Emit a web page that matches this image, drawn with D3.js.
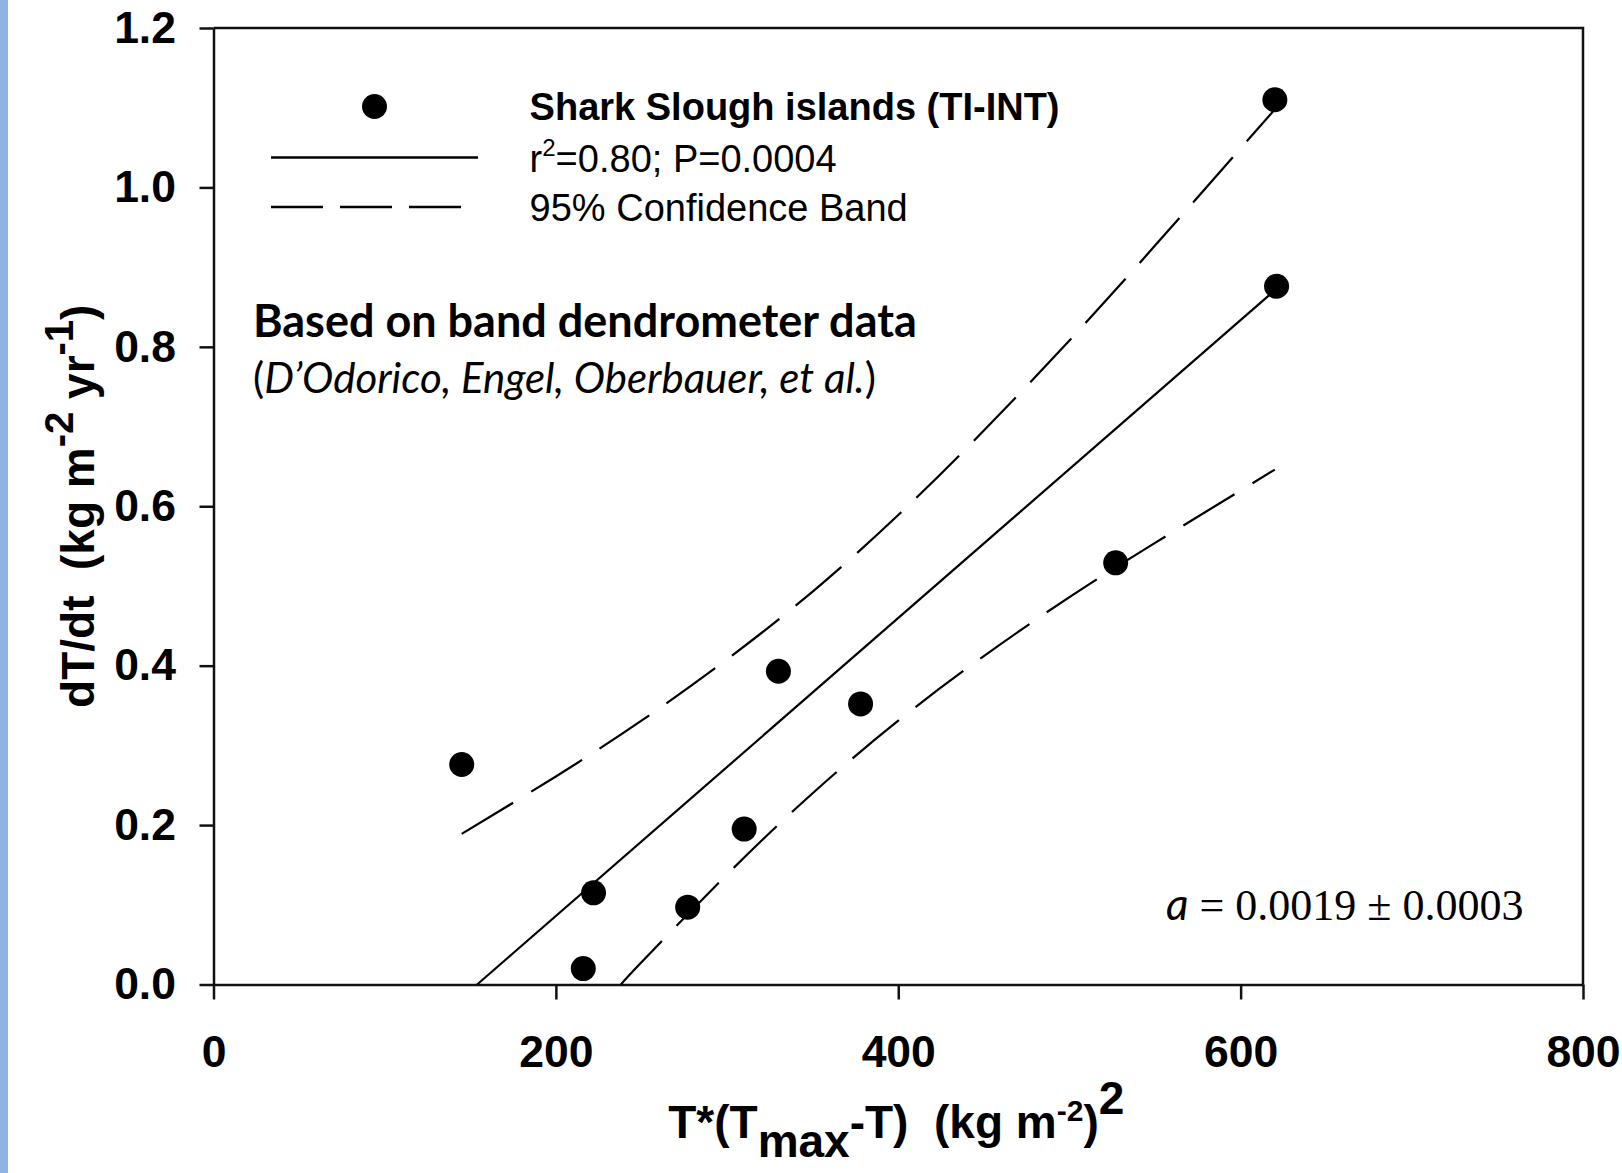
<!DOCTYPE html>
<html>
<head>
<meta charset="utf-8">
<script src="https://cdn.jsdelivr.net/npm/d3@7"></script>
<style>
  body { margin: 0; background: #fff; }
  svg { display: block; }
  text { white-space: pre; }
</style>
</head>
<body>
<div id="chart"></div>
<script>
// observed points (Shark Slough islands, TI-INT)
var xVals = [145, 216, 222, 277, 310, 330, 378, 527, 620, 621];
var yVals = [0.276, 0.020, 0.115, 0.097, 0.195, 0.393, 0.352, 0.529, 1.110, 0.876];

// regression line
var fitX = [154, 620];
var fitY = [0.0, 0.871];

// 95% confidence band
var upperX = [145, 200, 250, 300, 350, 400, 450, 500, 550, 620];
var upperY = [0.189, 0.261, 0.331, 0.408, 0.493, 0.589, 0.695, 0.808, 0.927, 1.098];
var lowerX = [238, 250, 300, 350, 400, 450, 500, 550, 620];
var lowerY = [0.0, 0.028, 0.138, 0.240, 0.331, 0.412, 0.486, 0.554, 0.646];

var xTicks = [0, 200, 400, 600, 800];
var yTicks = [0, 0.2, 0.4, 0.6, 0.8, 1.0, 1.2];

var w = 1622;
var h = 1173;
var padLeft = 213.5, padRight = 1583, padTop = 28, padBottom = 984.5;
var sans = "'Liberation Sans', Arial, sans-serif";

var svg = d3.select("#chart").append("svg")
    .attr("width", w)
    .attr("height", h);

// blue strip on the left edge
svg.append("rect")
    .attr("x", 0).attr("y", 0)
    .attr("width", 8).attr("height", h)
    .attr("fill", "#8eb4e3");

var xScale = d3.scaleLinear([0, 800], [padLeft, padRight]);
var yScale = d3.scaleLinear([0, 1.2], [padBottom, padTop]);

var xAxis = d3.axisBottom(xScale).tickValues(xTicks).tickSize(15).tickSizeOuter(0).tickFormat(d3.format("d"));
var yAxis = d3.axisLeft(yScale).tickValues(yTicks).tickSize(14).tickSizeOuter(0).tickFormat(d3.format(".1f"));

var gx = svg.append("g")
    .attr("transform", "translate(0," + padBottom + ")")
    .call(xAxis);
gx.selectAll("text")
    .attr("y", 82).attr("dy", null);

var gy = svg.append("g")
    .attr("transform", "translate(" + padLeft + ",0)")
    .call(yAxis);
gy.selectAll("text")
    .attr("x", -37.5);

svg.selectAll(".tick text")
    .attr("fill", "#000")
    .style("font-family", sans)
    .style("font-weight", "bold")
    .style("font-size", "44.5px");
svg.selectAll(".domain, .tick line")
    .attr("stroke", "#111")
    .attr("stroke-width", 2.5);

// top and right sides of the frame
svg.append("path")
    .attr("d", "M" + padLeft + "," + padTop + "H" + padRight + "V" + padBottom)
    .attr("fill", "none")
    .attr("stroke", "#111")
    .attr("stroke-width", 2.5);

var line = d3.line()
    .x(d => xScale(d[0]))
    .y(d => yScale(d[1]));
var curve = d3.line()
    .x(d => xScale(d[0]))
    .y(d => yScale(d[1]))
    .curve(d3.curveNatural);

svg.append("path")
    .datum(d3.zip(fitX, fitY))
    .attr("d", line)
    .attr("fill", "none")
    .attr("stroke", "#000")
    .attr("stroke-width", 2.2);

[d3.zip(upperX, upperY), d3.zip(lowerX, lowerY)].forEach(function (band) {
    svg.append("path")
        .datum(band)
        .attr("d", curve)
        .attr("fill", "none")
        .attr("stroke", "#000")
        .attr("stroke-width", 2.2)
        .attr("stroke-dasharray", "60,21");
});

svg.selectAll("circle.pt")
    .data(d3.zip(xVals, yVals))
    .join("circle")
    .attr("class", "pt")
    .attr("cx", d => xScale(d[0]))
    .attr("cy", d => yScale(d[1]))
    .attr("r", 12.5)
    .attr("fill", "#000");

// legend
svg.append("circle")
    .attr("cx", 374.5).attr("cy", 106.5).attr("r", 12.5).attr("fill", "#000");
svg.append("line")
    .attr("x1", 271).attr("x2", 478).attr("y1", 157.5).attr("y2", 157.5)
    .attr("stroke", "#000").attr("stroke-width", 2.5);
svg.append("line")
    .attr("x1", 271).attr("x2", 461).attr("y1", 207).attr("y2", 207)
    .attr("stroke", "#000").attr("stroke-width", 2.5)
    .attr("stroke-dasharray", "52,17");

svg.append("text")
    .attr("x", 529.6).attr("y", 120)
    .style("font-family", sans).style("font-weight", "bold").style("font-size", "38px")
    .text("Shark Slough islands (TI-INT)");

var r2 = svg.append("text")
    .attr("x", 529.6).attr("y", 171.5)
    .style("font-family", sans).style("font-size", "38px");
r2.append("tspan").text("r");
r2.append("tspan").attr("dy", -16).style("font-size", "24px").text("2");
r2.append("tspan").attr("dy", 16).text("=0.80; P=0.0004");

svg.append("text")
    .attr("x", 529.6).attr("y", 221)
    .style("font-family", sans).style("font-size", "38px")
    .text("95% Confidence Band");

// annotation
svg.append("text")
    .attr("x", 253).attr("y", 337)
    .style("font-family", "Lato, 'Open Sans', sans-serif").style("font-weight", "bold").style("font-size", "45px")
    .text("Based on band dendrometer data");

var cite = svg.append("text")
    .attr("x", 253).attr("y", 393)
    .style("font-family", "Lato, 'Open Sans', sans-serif").style("font-size", "42px");
cite.append("tspan").text("(");
cite.append("tspan").style("font-style", "italic").text("D\u2019Odorico, Engel, Oberbauer, et al.");
cite.append("tspan").text(")");

var eq = svg.append("text")
    .attr("x", 1166).attr("y", 920)
    .style("font-size", "44px");
eq.append("tspan").style("font-family", "Lato, sans-serif").style("font-style", "italic").text("a");
eq.append("tspan").style("font-family", "'Liberation Serif', 'Times New Roman', serif").text(" = 0.0019 \u00b1 0.0003");

// axis titles
var xt = svg.append("text")
    .attr("x", (padLeft + padRight) / 2 - 2).attr("y", 1138)
    .attr("text-anchor", "middle")
    .style("font-family", sans).style("font-weight", "bold").style("font-size", "46px");
xt.append("tspan").text("T*(T");
xt.append("tspan").attr("dy", 19).text("max");
xt.append("tspan").attr("dy", -19).text("-T)  (kg m");
xt.append("tspan").attr("dy", -17).style("font-size", "30px").text("-2");
xt.append("tspan").attr("dy", 17).text(")");
xt.append("tspan").attr("dy", -24).text("2");

var yt = svg.append("text")
    .attr("transform", "translate(94," + ((padTop + padBottom) / 2) + ") rotate(-90)")
    .attr("text-anchor", "middle")
    .style("font-family", sans).style("font-weight", "bold").style("font-size", "46px");
yt.append("tspan").text("dT/dt  (kg m");
yt.append("tspan").attr("dy", -21).style("font-size", "40px").text("-2");
yt.append("tspan").attr("dy", 21).text(" yr");
yt.append("tspan").attr("dy", -21).style("font-size", "40px").text("-1");
yt.append("tspan").attr("dy", 21).text(")");
</script>
</body>
</html>
